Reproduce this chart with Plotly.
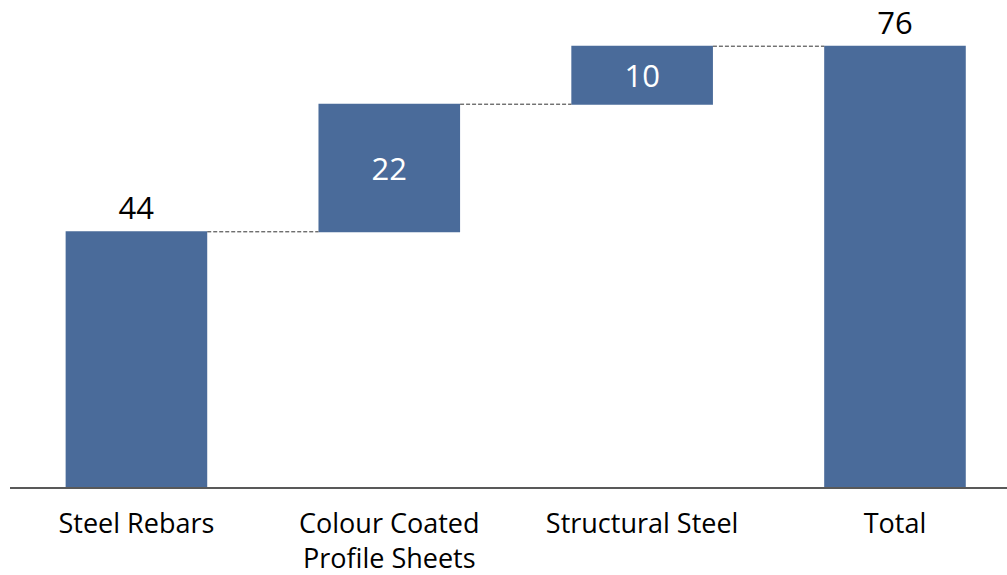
import plotly.graph_objects as go

categories = ["Steel Rebars", "Colour Coated<br>Profile Sheets", "Structural Steel", "Total"]
values = [44, 22, 10, 76]
measures = ["absolute", "relative", "relative", "total"]
labels = ["44", "22", "10", "76"]

bar_color = "#4A6B9A"
font_family = "Open Sans"

fig = go.Figure()
fig.add_trace(go.Waterfall(
    x=list(range(len(categories))),
    y=values,
    measure=measures,
    text=labels,
    textposition=["outside", "inside", "inside", "outside"],
    insidetextanchor="middle",
    insidetextfont=dict(color="white", size=31, family=font_family),
    outsidetextfont=dict(color="black", size=31, family=font_family),
    textfont=dict(size=31, family=font_family),
    cliponaxis=False,
    width=0.56,
    increasing=dict(marker=dict(color=bar_color)),
    decreasing=dict(marker=dict(color=bar_color)),
    totals=dict(marker=dict(color=bar_color)),
    connector=dict(line=dict(color="#333333", width=1, dash="4px,2px")),
    showlegend=False,
))

fig.update_layout(
    width=1007, height=575,
    margin=dict(l=10, r=0, t=23, b=88),
    plot_bgcolor="white", paper_bgcolor="white",
    font=dict(family=font_family, size=27, color="black"),
    xaxis=dict(
        tickmode="array", tickvals=list(range(len(categories))), ticktext=categories,
        range=[-0.5, 3.443], showgrid=False, zeroline=False, automargin=False,
        showline=True, linecolor="#595959", linewidth=1.5,
        ticks="outside", ticklen=12, tickcolor="rgba(0,0,0,0)",
        tickfont=dict(size=27, family=font_family),
    ),
    yaxis=dict(range=[0, 80], visible=False, showgrid=False, zeroline=False),
)

# drop the default body margin so the figure fills the window
fig.write_html("out.html", config={"displayModeBar": False},
               post_script="document.body.style.margin='0';")
